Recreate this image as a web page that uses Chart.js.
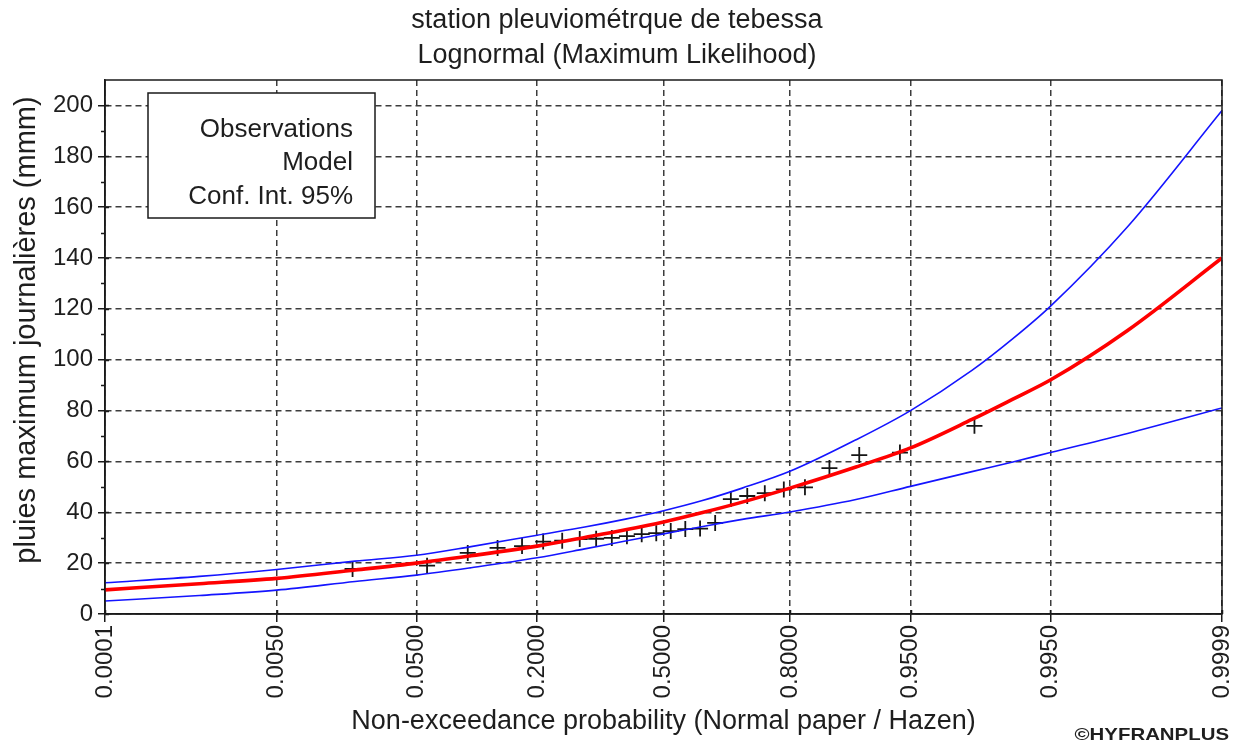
<!DOCTYPE html>
<html>
<head>
<meta charset="utf-8">
<script src="https://cdn.jsdelivr.net/npm/chart.js@4.4.1/dist/chart.umd.min.js"></script>
<style>
  html, body { margin: 0; padding: 0; background: #ffffff; }
  #wrap { width: 1240px; height: 744px; }
</style>
</head>
<body>
<div id="wrap"><canvas id="chart" width="1240" height="744"></canvas></div>
<script>
// ---- chart content ----
const titleLines = ['station pleuviométrque de tebessa', 'Lognormal (Maximum Likelihood)'];
const xAxisTitle = 'Non-exceedance probability (Normal paper / Hazen)';
const yAxisTitle = 'pluies maximum journalières (mmm)';
const legendLabels = ['Observations', 'Model', 'Conf. Int. 95%'];
const creditText = '©HYFRANPLUS';

// probability-axis ticks (normal paper) and value-axis ticks
const xTickProbs = [0.0001, 0.005, 0.05, 0.2, 0.5, 0.8, 0.95, 0.995, 0.9999];
const xTickLabels = ['0.0001', '0.0050', '0.0500', '0.2000', '0.5000', '0.8000', '0.9500', '0.9950', '0.9999'];
const yTicks = [0, 20, 40, 60, 80, 100, 120, 140, 160, 180, 200];
const yMinorTicks = [10, 30, 50, 70, 90, 110, 130, 150, 170, 190];

// observed annual maxima (Hazen plotting positions)
const obsProbs = [0.0192, 0.0577, 0.0962, 0.1346, 0.1731, 0.2115, 0.2500, 0.2885, 0.3269,
                  0.3654, 0.4038, 0.4423, 0.4808, 0.5192, 0.5577, 0.5962, 0.6346, 0.6731,
                  0.7115, 0.7500, 0.7885, 0.8269, 0.8654, 0.9038, 0.9423, 0.9808];
const obsValues = [17.7, 19.0, 24.0, 26.0, 26.7, 28.5, 28.8, 29.5, 29.6,
                   29.9, 30.6, 31.4, 31.8, 32.6, 33.4, 33.6, 35.8, 45.2,
                   46.4, 47.5, 49.0, 49.8, 57.4, 62.5, 63.5, 74.0];

// fitted lognormal quantiles and 95% confidence band
const curveProbs  = [0.0001, 0.001, 0.005, 0.02, 0.05, 0.1, 0.2, 0.3, 0.4, 0.5,
                     0.6, 0.7, 0.8, 0.9, 0.95, 0.98, 0.99, 0.995, 0.999, 0.9999];
const modelValues = [9.5, 11.9, 14.0, 17.3, 20.0, 22.9, 26.7, 30.1, 33.1, 36.2,
                     39.8, 44.0, 49.5, 57.8, 65.3, 76.5, 84.5, 92.0, 111.5, 140.0];
const upperValues = [12.3, 14.8, 17.5, 20.8, 23.1, 26.5, 31.0, 34.2, 37.3, 40.6,
                     44.5, 49.5, 56.1, 68.5, 80.0, 95.8, 108.3, 121.0, 152.3, 198.0];
const lowerValues = [5.1, 7.3, 9.4, 12.8, 15.3, 18.2, 22.1, 25.6, 28.7, 31.5,
                     34.3, 37.2, 40.1, 45.0, 50.2, 56.0, 59.8, 63.5, 71.0, 81.0];

// ---- normal probability paper: probability -> standard normal quantile ----
function probit(p) {
  const a = [-3.969683028665376e+01, 2.209460984245205e+02, -2.759285104469687e+02,
             1.383577518672690e+02, -3.066479806614716e+01, 2.506628277459239e+00];
  const b = [-5.447609879822406e+01, 1.615858368580409e+02, -1.556989798598866e+02,
             6.680131188771972e+01, -1.328068155288572e+01];
  const c = [-7.784894002430293e-03, -3.223964580411365e-01, -2.400758277161838e+00,
             -2.549732539343734e+00, 4.374664141464968e+00, 2.938163982698783e+00];
  const d = [7.784695709041462e-03, 3.224671290700398e-01, 2.445134137142996e+00,
             3.754408661907416e+00];
  const pl = 0.02425, ph = 1 - pl;
  let q, r;
  if (p < pl) {
    q = Math.sqrt(-2 * Math.log(p));
    return (((((c[0]*q + c[1])*q + c[2])*q + c[3])*q + c[4])*q + c[5]) /
           ((((d[0]*q + d[1])*q + d[2])*q + d[3])*q + 1);
  }
  if (p <= ph) {
    q = p - 0.5; r = q * q;
    return (((((a[0]*r + a[1])*r + a[2])*r + a[3])*r + a[4])*r + a[5]) * q /
           (((((b[0]*r + b[1])*r + b[2])*r + b[3])*r + b[4])*r + 1);
  }
  q = Math.sqrt(-2 * Math.log(1 - p));
  return -(((((c[0]*q + c[1])*q + c[2])*q + c[3])*q + c[4])*q + c[5]) /
          ((((d[0]*q + d[1])*q + d[2])*q + d[3])*q + 1);
}

const toPoints = (probs, vals) => probs.map((p, i) => ({ x: probit(p), y: vals[i] }));

const FONT = "'Liberation Sans', Arial, sans-serif";
const TEXT = '#1e1e1e';
const GRID = '#3c3c3c';

// titles, frame, minor ticks, legend box and credit line
const decorations = {
  id: 'decorations',
  afterDatasetsDraw(chart) {
    const { ctx, chartArea: a, scales } = chart;
    ctx.save();
    // plot frame
    ctx.strokeStyle = '#1a1a1a';
    ctx.lineWidth = 1.5;
    ctx.setLineDash([]);
    ctx.strokeRect(a.left, a.top, a.right - a.left, a.bottom - a.top);
    // value-axis tick marks: major ticks cross the axis, minor ticks sit outside
    ctx.beginPath();
    yTicks.forEach(v => {
      const y = Math.round(scales.y.getPixelForValue(v)) + 0.5;
      ctx.moveTo(a.left, y); ctx.lineTo(a.left + 4, y);
    });
    yMinorTicks.forEach(v => {
      const y = Math.round(scales.y.getPixelForValue(v)) + 0.5;
      ctx.moveTo(a.left - 4, y); ctx.lineTo(a.left, y);
    });
    xTickProbs.forEach(p => {
      const x = Math.round(scales.x.getPixelForValue(probit(p))) + 0.5;
      ctx.moveTo(x, a.bottom); ctx.lineTo(x, a.bottom - 4);
    });
    ctx.stroke();

    // two-line chart title
    ctx.fillStyle = TEXT;
    ctx.font = '27px ' + FONT;
    ctx.textAlign = 'center';
    ctx.textBaseline = 'middle';
    titleLines.forEach((t, i) => ctx.fillText(t, 617, 21 + i * 35));

    // value-axis title, read bottom to top
    ctx.save();
    ctx.translate(27, 330);
    ctx.rotate(-Math.PI / 2);
    ctx.font = '29px ' + FONT;
    ctx.fillText(yAxisTitle, 0, 0);
    ctx.restore();

    // legend box (text only, right aligned)
    const bx = 148, by = 93, bw = 227, bh = 125;
    ctx.fillStyle = '#ffffff';
    ctx.fillRect(bx, by, bw, bh);
    ctx.strokeStyle = '#1a1a1a';
    ctx.lineWidth = 1.5;
    ctx.strokeRect(bx, by, bw, bh);
    ctx.fillStyle = TEXT;
    ctx.font = '26px ' + FONT;
    ctx.textAlign = 'right';
    ctx.textBaseline = 'middle';
    const rows = [130, 163, 197];
    legendLabels.forEach((t, i) => ctx.fillText(t, bx + 205, rows[i]));

    // credit line, slightly widened bold caps
    ctx.save();
    ctx.translate(1229, 735);
    ctx.scale(1.2, 1);
    ctx.font = 'bold 17px ' + FONT;
    ctx.textAlign = 'right';
    ctx.fillText(creditText, 0, 0);
    ctx.restore();
    ctx.restore();
  }
};

new Chart(document.getElementById('chart'), {
  type: 'scatter',
  data: {
    datasets: [
      {
        label: legendLabels[0],
        data: toPoints(obsProbs, obsValues),
        showLine: false,
        pointStyle: 'cross',
        pointRadius: 8,
        pointBorderWidth: 1.8,
        borderColor: '#151515',
        backgroundColor: '#151515',
        order: 3
      },
      {
        label: legendLabels[2] + ' (upper)',
        data: toPoints(curveProbs, upperValues),
        showLine: true,
        borderColor: '#1414ff',
        borderWidth: 1.6,
        pointRadius: 0,
        cubicInterpolationMode: 'monotone',
        order: 2
      },
      {
        label: legendLabels[2] + ' (lower)',
        data: toPoints(curveProbs, lowerValues),
        showLine: true,
        borderColor: '#1414ff',
        borderWidth: 1.6,
        pointRadius: 0,
        cubicInterpolationMode: 'monotone',
        order: 2
      },
      {
        label: legendLabels[1],
        data: toPoints(curveProbs, modelValues),
        showLine: true,
        borderColor: '#ff0000',
        borderWidth: 3.6,
        pointRadius: 0,
        cubicInterpolationMode: 'monotone',
        order: 1
      }
    ]
  },
  options: {
    responsive: false,
    animation: false,
    devicePixelRatio: 1,
    layout: { padding: { left: 0, right: 18, top: 80, bottom: 0 } },
    plugins: {
      legend: { display: false },
      tooltip: { enabled: false },
      title: { display: false }
    },
    scales: {
      x: {
        type: 'linear',
        min: probit(xTickProbs[0]),
        max: probit(xTickProbs[xTickProbs.length - 1]),
        afterBuildTicks: s => { s.ticks = xTickProbs.map(p => ({ value: probit(p) })); },
        afterFit: s => { s.height = 130; s.paddingLeft = 0; s.paddingRight = 0; },
        ticks: {
          autoSkip: false,
          minRotation: 90,
          maxRotation: 90,
          padding: 3,
          color: TEXT,
          font: { family: FONT, size: 24 },
          callback: (v, i) => xTickLabels[i]
        },
        grid: {
          color: GRID,
          lineWidth: 1.5,
          tickLength: 8,
          tickColor: '#1a1a1a',
          tickWidth: 1.5,
          tickBorderDash: []
        },
        border: { display: true, color: '#1a1a1a', width: 1.5, dash: [6, 4] },
        title: {
          display: true,
          text: xAxisTitle,
          color: TEXT,
          font: { family: FONT, size: 27 },
          padding: { top: 0, bottom: 6 }
        }
      },
      y: {
        min: 0,
        max: 210,
        afterBuildTicks: s => { s.ticks = yTicks.map(v => ({ value: v })); },
        afterFit: s => { s.width = 105; s.paddingTop = 0; s.paddingBottom = 0; },
        ticks: {
          padding: 5,
          color: TEXT,
          font: { family: FONT, size: 24 }
        },
        grid: {
          color: GRID,
          lineWidth: 1.5,
          tickLength: 7,
          tickColor: '#1a1a1a',
          tickWidth: 1.5,
          tickBorderDash: []
        },
        border: { display: true, color: '#1a1a1a', width: 1.5, dash: [6, 4] },
        title: { display: false }
      }
    }
  },
  plugins: [decorations]
});
</script>
</body>
</html>
